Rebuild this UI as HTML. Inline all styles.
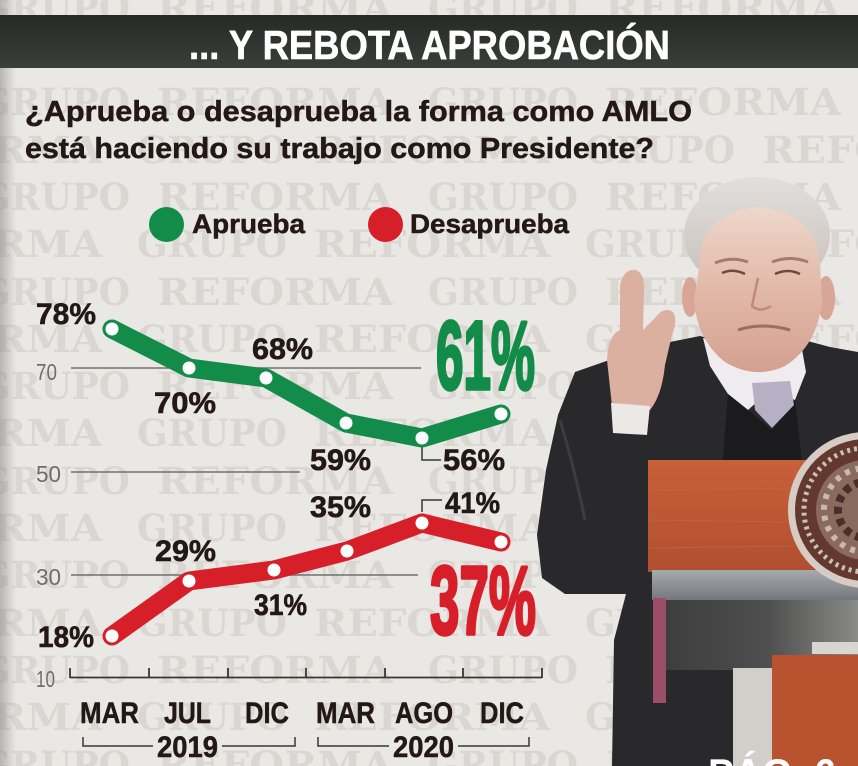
<!DOCTYPE html>
<html><head><meta charset="utf-8"><style>
html,body{margin:0;padding:0;background:#eae8e4;}
svg{display:block;}
</style></head><body>
<svg width="858" height="766" viewBox="0 0 858 766" xmlns="http://www.w3.org/2000/svg">
<defs>
<linearGradient id="hdr" x1="0" y1="0" x2="0" y2="1"><stop offset="0" stop-color="#262a27"/><stop offset="1" stop-color="#3a3f3b"/></linearGradient>
<linearGradient id="vig" x1="0" y1="0" x2="1" y2="0"><stop offset="0" stop-color="#8e8c88" stop-opacity="0.55"/><stop offset="1" stop-color="#8e8c88" stop-opacity="0"/></linearGradient>
<linearGradient id="skin" x1="0" y1="0" x2="0" y2="1"><stop offset="0" stop-color="#eed7cb"/><stop offset="0.5" stop-color="#e2b9a9"/><stop offset="1" stop-color="#d4a090"/></linearGradient>
<linearGradient id="hair" x1="0" y1="0" x2="0" y2="1"><stop offset="0" stop-color="#e2dfdc"/><stop offset="1" stop-color="#c6bfba"/></linearGradient>
<linearGradient id="wood" x1="0" y1="0" x2="0" y2="1"><stop offset="0" stop-color="#c8603a"/><stop offset="1" stop-color="#b04f2f"/></linearGradient>
<linearGradient id="band" x1="0" y1="0" x2="0" y2="1"><stop offset="0" stop-color="#a6aaae"/><stop offset="1" stop-color="#74787c"/></linearGradient>
<linearGradient id="dk" x1="0" y1="0" x2="1" y2="0"><stop offset="0" stop-color="#3c3c3d"/><stop offset="0.55" stop-color="#4e4e4e"/><stop offset="1" stop-color="#8a8a88"/></linearGradient>
</defs>

<rect x="0" y="0" width="858" height="766" fill="#eae8e4"/>

<!-- watermark -->
<g font-family="'DejaVu Serif','Liberation Serif',serif" font-weight="bold" font-size="37" fill="#dad7d2">
<text x="-20" y="21" textLength="150" lengthAdjust="spacingAndGlyphs">GRUPO</text><text x="157" y="21" textLength="236" lengthAdjust="spacingAndGlyphs">REFORMA</text><text x="428" y="21" textLength="150" lengthAdjust="spacingAndGlyphs">GRUPO</text><text x="605" y="21" textLength="236" lengthAdjust="spacingAndGlyphs">REFORMA</text>
<text x="-20" y="115" textLength="150" lengthAdjust="spacingAndGlyphs">GRUPO</text><text x="157" y="115" textLength="236" lengthAdjust="spacingAndGlyphs">REFORMA</text><text x="428" y="115" textLength="150" lengthAdjust="spacingAndGlyphs">GRUPO</text><text x="605" y="115" textLength="236" lengthAdjust="spacingAndGlyphs">REFORMA</text>
<text x="-20" y="210" textLength="150" lengthAdjust="spacingAndGlyphs">GRUPO</text><text x="157" y="210" textLength="236" lengthAdjust="spacingAndGlyphs">REFORMA</text><text x="428" y="210" textLength="150" lengthAdjust="spacingAndGlyphs">GRUPO</text><text x="605" y="210" textLength="236" lengthAdjust="spacingAndGlyphs">REFORMA</text>
<text x="-20" y="305" textLength="150" lengthAdjust="spacingAndGlyphs">GRUPO</text><text x="157" y="305" textLength="236" lengthAdjust="spacingAndGlyphs">REFORMA</text><text x="428" y="305" textLength="150" lengthAdjust="spacingAndGlyphs">GRUPO</text><text x="605" y="305" textLength="236" lengthAdjust="spacingAndGlyphs">REFORMA</text>
<text x="-20" y="399" textLength="150" lengthAdjust="spacingAndGlyphs">GRUPO</text><text x="157" y="399" textLength="236" lengthAdjust="spacingAndGlyphs">REFORMA</text><text x="428" y="399" textLength="150" lengthAdjust="spacingAndGlyphs">GRUPO</text><text x="605" y="399" textLength="236" lengthAdjust="spacingAndGlyphs">REFORMA</text>
<text x="-20" y="494" textLength="150" lengthAdjust="spacingAndGlyphs">GRUPO</text><text x="157" y="494" textLength="236" lengthAdjust="spacingAndGlyphs">REFORMA</text><text x="428" y="494" textLength="150" lengthAdjust="spacingAndGlyphs">GRUPO</text><text x="605" y="494" textLength="236" lengthAdjust="spacingAndGlyphs">REFORMA</text>
<text x="-20" y="588" textLength="150" lengthAdjust="spacingAndGlyphs">GRUPO</text><text x="157" y="588" textLength="236" lengthAdjust="spacingAndGlyphs">REFORMA</text><text x="428" y="588" textLength="150" lengthAdjust="spacingAndGlyphs">GRUPO</text><text x="605" y="588" textLength="236" lengthAdjust="spacingAndGlyphs">REFORMA</text>
<text x="-20" y="683" textLength="150" lengthAdjust="spacingAndGlyphs">GRUPO</text><text x="157" y="683" textLength="236" lengthAdjust="spacingAndGlyphs">REFORMA</text><text x="428" y="683" textLength="150" lengthAdjust="spacingAndGlyphs">GRUPO</text><text x="605" y="683" textLength="236" lengthAdjust="spacingAndGlyphs">REFORMA</text>
<text x="-20" y="778" textLength="150" lengthAdjust="spacingAndGlyphs">GRUPO</text><text x="157" y="778" textLength="236" lengthAdjust="spacingAndGlyphs">REFORMA</text><text x="428" y="778" textLength="150" lengthAdjust="spacingAndGlyphs">GRUPO</text><text x="605" y="778" textLength="236" lengthAdjust="spacingAndGlyphs">REFORMA</text>
<text x="-134" y="68" textLength="236" lengthAdjust="spacingAndGlyphs">REFORMA</text><text x="137" y="68" textLength="150" lengthAdjust="spacingAndGlyphs">GRUPO</text><text x="314" y="68" textLength="236" lengthAdjust="spacingAndGlyphs">REFORMA</text><text x="585" y="68" textLength="150" lengthAdjust="spacingAndGlyphs">GRUPO</text><text x="762" y="68" textLength="236" lengthAdjust="spacingAndGlyphs">REFORMA</text>
<text x="-134" y="163" textLength="236" lengthAdjust="spacingAndGlyphs">REFORMA</text><text x="137" y="163" textLength="150" lengthAdjust="spacingAndGlyphs">GRUPO</text><text x="314" y="163" textLength="236" lengthAdjust="spacingAndGlyphs">REFORMA</text><text x="585" y="163" textLength="150" lengthAdjust="spacingAndGlyphs">GRUPO</text><text x="762" y="163" textLength="236" lengthAdjust="spacingAndGlyphs">REFORMA</text>
<text x="-134" y="257" textLength="236" lengthAdjust="spacingAndGlyphs">REFORMA</text><text x="137" y="257" textLength="150" lengthAdjust="spacingAndGlyphs">GRUPO</text><text x="314" y="257" textLength="236" lengthAdjust="spacingAndGlyphs">REFORMA</text><text x="585" y="257" textLength="150" lengthAdjust="spacingAndGlyphs">GRUPO</text><text x="762" y="257" textLength="236" lengthAdjust="spacingAndGlyphs">REFORMA</text>
<text x="-134" y="352" textLength="236" lengthAdjust="spacingAndGlyphs">REFORMA</text><text x="137" y="352" textLength="150" lengthAdjust="spacingAndGlyphs">GRUPO</text><text x="314" y="352" textLength="236" lengthAdjust="spacingAndGlyphs">REFORMA</text><text x="585" y="352" textLength="150" lengthAdjust="spacingAndGlyphs">GRUPO</text><text x="762" y="352" textLength="236" lengthAdjust="spacingAndGlyphs">REFORMA</text>
<text x="-134" y="446" textLength="236" lengthAdjust="spacingAndGlyphs">REFORMA</text><text x="137" y="446" textLength="150" lengthAdjust="spacingAndGlyphs">GRUPO</text><text x="314" y="446" textLength="236" lengthAdjust="spacingAndGlyphs">REFORMA</text><text x="585" y="446" textLength="150" lengthAdjust="spacingAndGlyphs">GRUPO</text><text x="762" y="446" textLength="236" lengthAdjust="spacingAndGlyphs">REFORMA</text>
<text x="-134" y="541" textLength="236" lengthAdjust="spacingAndGlyphs">REFORMA</text><text x="137" y="541" textLength="150" lengthAdjust="spacingAndGlyphs">GRUPO</text><text x="314" y="541" textLength="236" lengthAdjust="spacingAndGlyphs">REFORMA</text><text x="585" y="541" textLength="150" lengthAdjust="spacingAndGlyphs">GRUPO</text><text x="762" y="541" textLength="236" lengthAdjust="spacingAndGlyphs">REFORMA</text>
<text x="-134" y="636" textLength="236" lengthAdjust="spacingAndGlyphs">REFORMA</text><text x="137" y="636" textLength="150" lengthAdjust="spacingAndGlyphs">GRUPO</text><text x="314" y="636" textLength="236" lengthAdjust="spacingAndGlyphs">REFORMA</text><text x="585" y="636" textLength="150" lengthAdjust="spacingAndGlyphs">GRUPO</text><text x="762" y="636" textLength="236" lengthAdjust="spacingAndGlyphs">REFORMA</text>
<text x="-134" y="730" textLength="236" lengthAdjust="spacingAndGlyphs">REFORMA</text><text x="137" y="730" textLength="150" lengthAdjust="spacingAndGlyphs">GRUPO</text><text x="314" y="730" textLength="236" lengthAdjust="spacingAndGlyphs">REFORMA</text><text x="585" y="730" textLength="150" lengthAdjust="spacingAndGlyphs">GRUPO</text><text x="762" y="730" textLength="236" lengthAdjust="spacingAndGlyphs">REFORMA</text>
</g>

<rect x="0" y="0" width="16" height="766" fill="url(#vig)"/>

<!-- header -->
<rect x="0" y="15" width="858" height="53" fill="url(#hdr)"/>
<text x="189" y="59" font-family="'Liberation Sans',sans-serif" font-weight="bold" font-size="41" fill="#ffffff" stroke="#ffffff" stroke-width="0.6" textLength="481" lengthAdjust="spacingAndGlyphs">... Y REBOTA APROBACIÓN</text>

<!-- question -->
<g font-family="'Liberation Sans',sans-serif" font-weight="bold" fill="#231815" stroke="#231815" stroke-width="0.5">
<text x="25" y="121" font-size="29" textLength="667" lengthAdjust="spacingAndGlyphs">¿Aprueba o desaprueba la forma como AMLO</text>
<text x="25" y="158" font-size="29" textLength="629" lengthAdjust="spacingAndGlyphs">está haciendo su trabajo como Presidente?</text>
</g>

<!-- legend -->
<circle cx="166.5" cy="224.5" r="17.5" fill="#138b49"/>
<circle cx="385.5" cy="224.5" r="17.5" fill="#d71f2a"/>
<g font-family="'Liberation Sans',sans-serif" font-weight="bold" fill="#231815" stroke="#231815" stroke-width="0.5" font-size="27">
<text x="192" y="233" textLength="113" lengthAdjust="spacingAndGlyphs">Aprueba</text>
<text x="410" y="233" textLength="159" lengthAdjust="spacingAndGlyphs">Desaprueba</text>
</g>

<!-- gridlines -->
<g stroke="#707070" stroke-width="1.5">
<line x1="71" y1="368" x2="421" y2="368"/>
<line x1="71" y1="472" x2="300" y2="472"/>
<line x1="71" y1="575" x2="418" y2="575"/>
</g>
<g font-family="'Liberation Sans',sans-serif" font-size="23" fill="#6e6e6e">
<text x="36" y="380" textLength="21" lengthAdjust="spacingAndGlyphs">70</text>
<text x="36" y="482" textLength="25" lengthAdjust="spacingAndGlyphs">50</text>
<text x="36" y="585" textLength="25" lengthAdjust="spacingAndGlyphs">30</text>
<text x="36" y="687" textLength="19" lengthAdjust="spacingAndGlyphs">10</text>
</g>

<!-- x axis -->
<g stroke="#3b3530" stroke-width="1.8" fill="none">
<line x1="70" y1="677.5" x2="542" y2="677.5"/>
<line x1="70" y1="668" x2="70" y2="678"/>
<line x1="149" y1="668" x2="149" y2="678"/>
<line x1="228" y1="668" x2="228" y2="678"/>
<line x1="306" y1="668" x2="306" y2="678"/>
<line x1="385" y1="668" x2="385" y2="678"/>
<line x1="463" y1="668" x2="463" y2="678"/>
<line x1="542" y1="668" x2="542" y2="678"/>
</g>
<g stroke="#3b3530" stroke-width="1.5" fill="none">
<polyline points="83,737 83,746 153,746"/>
<polyline points="222,746 295,746 295,737"/>
<polyline points="318,737 318,746 389,746"/>
<polyline points="458,746 529,746 529,737"/>
<polyline points="422,442 422,460 441,460"/>
<polyline points="422,512 422,500 442,500"/>
</g>
<g font-family="'Liberation Sans',sans-serif" font-weight="bold" fill="#231815" stroke="#231815" stroke-width="0.5" font-size="30">
<text x="80" y="723" textLength="59" lengthAdjust="spacingAndGlyphs">MAR</text>
<text x="164" y="723" textLength="47" lengthAdjust="spacingAndGlyphs">JUL</text>
<text x="245" y="723" textLength="44" lengthAdjust="spacingAndGlyphs">DIC</text>
<text x="316" y="723" textLength="59" lengthAdjust="spacingAndGlyphs">MAR</text>
<text x="395" y="723" textLength="58" lengthAdjust="spacingAndGlyphs">AGO</text>
<text x="480" y="723" textLength="44" lengthAdjust="spacingAndGlyphs">DIC</text>
<text x="157" y="757" textLength="61" lengthAdjust="spacingAndGlyphs">2019</text>
<text x="393" y="757" textLength="61" lengthAdjust="spacingAndGlyphs">2020</text>
</g>

<!-- series -->
<polyline points="112,329 189,368 266,378 346,423 422,438 501,414" fill="none" stroke="#138b49" stroke-width="19" stroke-linejoin="round" stroke-linecap="round"/>
<polyline points="112,636 189,581 274,570 347,551 422,523 501,542" fill="none" stroke="#d71f2a" stroke-width="19" stroke-linejoin="round" stroke-linecap="round"/>
<g fill="#ffffff">
<circle cx="112" cy="329" r="6.5"/><circle cx="189" cy="368" r="6.5"/><circle cx="266" cy="378" r="6.5"/><circle cx="346" cy="423" r="6.5"/><circle cx="422" cy="438" r="6.5"/><circle cx="501" cy="414" r="6.5"/>
<circle cx="112" cy="636" r="6.5"/><circle cx="189" cy="581" r="6.5"/><circle cx="274" cy="570" r="6.5"/><circle cx="347" cy="551" r="6.5"/><circle cx="422" cy="523" r="6.5"/><circle cx="501" cy="542" r="6.5"/>
</g>

<!-- data labels -->
<g font-family="'Liberation Sans',sans-serif" font-weight="bold" fill="#231815" stroke="#231815" stroke-width="0.6" font-size="30">
<text x="36" y="324" textLength="60" lengthAdjust="spacingAndGlyphs">78%</text>
<text x="154" y="413" textLength="62" lengthAdjust="spacingAndGlyphs">70%</text>
<text x="252" y="359" textLength="61" lengthAdjust="spacingAndGlyphs">68%</text>
<text x="310" y="470" textLength="61" lengthAdjust="spacingAndGlyphs">59%</text>
<text x="443" y="470" textLength="62" lengthAdjust="spacingAndGlyphs">56%</text>
<text x="310" y="517" textLength="61" lengthAdjust="spacingAndGlyphs">35%</text>
<text x="445" y="513" textLength="55" lengthAdjust="spacingAndGlyphs">41%</text>
<text x="155" y="561" textLength="61" lengthAdjust="spacingAndGlyphs">29%</text>
<text x="254" y="615" textLength="53" lengthAdjust="spacingAndGlyphs">31%</text>
<text x="38" y="647" textLength="56" lengthAdjust="spacingAndGlyphs">18%</text>
</g>
<g font-family="'Liberation Sans',sans-serif" font-weight="bold" font-size="97">
<text x="436" y="389" fill="#138b49" stroke="#138b49" stroke-width="3.5" stroke-linejoin="round" textLength="99" lengthAdjust="spacingAndGlyphs">61%</text>
<text x="430" y="634" fill="#d71f2a" stroke="#d71f2a" stroke-width="3.5" stroke-linejoin="round" textLength="106" lengthAdjust="spacingAndGlyphs">37%</text>
</g>

<!-- photo -->
<path d="M575,372 L615,358 L655,345 L700,336 L735,345 L800,339 L830,347 L858,352 L858,766 L612,766 L614,640 L626,594 L565,594 L542,578 L537,535 L546,470 L558,415 Z" fill="#29292b"/>
<path d="M560,420 Q575,470 585,520" stroke="#3d3d40" stroke-width="3" fill="none"/>
<path d="M703,338 L745,346 L800,338 L806,372 L795,400 L770,390 L748,410 L728,394 L710,366 Z" fill="#eeecef"/>
<path d="M728,394 L748,410 L772,430 L795,400 L803,470 L722,470 Z" fill="#1b1b1d"/>
<path d="M752,383 L790,381 L794,405 L772,428 L755,410 Z" fill="#b7afc4"/>
<ellipse cx="757" cy="235" rx="73" ry="58" fill="url(#hair)"/>
<ellipse cx="690" cy="297" rx="8" ry="20" fill="#d7a696"/>
<ellipse cx="826" cy="298" rx="9" ry="22" fill="#d7a696"/>
<path d="M700,262 Q700,215 757,207 Q815,212 820,262 L822,300 Q818,345 785,366 Q755,380 725,362 Q697,340 694,300 Z" fill="url(#skin)"/>
<path d="M715,263 Q731,256 748,262" stroke="#a07d72" stroke-width="3" fill="none"/>
<path d="M772,262 Q790,255 808,262" stroke="#a07d72" stroke-width="3" fill="none"/>
<path d="M722,273 Q733,268 745,274" stroke="#6a4c45" stroke-width="2.5" fill="none"/>
<path d="M775,274 Q788,268 800,274" stroke="#6a4c45" stroke-width="2.5" fill="none"/>
<path d="M758,278 L752,306 Q760,313 771,306" stroke="#bf8a7c" stroke-width="2.5" fill="none"/>
<path d="M738,330 Q762,322 790,330" stroke="#a26b60" stroke-width="3" fill="none"/>
<path d="M612,406 L607,360 Q608,335 620,330 L620,285 Q624,268 636,270 Q645,274 644,290 L643,330 L655,318 Q664,306 673,312 Q678,320 672,335 L665,365 Q662,395 650,410 Z" fill="#dcb0a0"/>
<path d="M611,403 L650,406 L647,435 L613,433 Z" fill="#ece8e6"/>

<!-- podium -->
<rect x="648" y="460" width="210" height="112" fill="url(#wood)"/>
<g stroke="#d06a45" stroke-width="1" opacity="0.5">
<line x1="650" y1="490" x2="790" y2="488"/><line x1="650" y1="520" x2="790" y2="522"/><line x1="650" y1="548" x2="790" y2="546"/>
</g>
<rect x="652" y="570" width="206" height="30" fill="url(#band)"/>
<rect x="655" y="600" width="203" height="70" fill="url(#dk)"/>
<rect x="812" y="642" width="46" height="12" fill="#d8d6d2"/>
<rect x="653" y="598" width="13" height="105" fill="#9c4d68"/>
<rect x="733" y="668" width="40" height="98" fill="#d2cfcb"/>
<rect x="772" y="655" width="86" height="111" fill="#b9532f"/>

<!-- seal -->
<circle cx="866" cy="510" r="78" fill="#d6ccc3"/>
<circle cx="866" cy="510" r="71" fill="#63392f"/>
<circle cx="866" cy="510" r="62" fill="none" stroke="#cdbfb3" stroke-width="5" stroke-dasharray="3 4"/>
<circle cx="866" cy="510" r="50" fill="#8a6a5e"/>
<circle cx="866" cy="510" r="42" fill="none" stroke="#c9b9ad" stroke-width="6" stroke-dasharray="5 6"/>
<circle cx="866" cy="510" r="28" fill="none" stroke="#4e2d26" stroke-width="8" stroke-dasharray="7 5"/>

<text x="708" y="788" font-family="'Liberation Sans',sans-serif" font-weight="bold" font-size="42" fill="#ffffff" textLength="128" lengthAdjust="spacingAndGlyphs">PÁG. 6</text>
</svg>
</body></html>
